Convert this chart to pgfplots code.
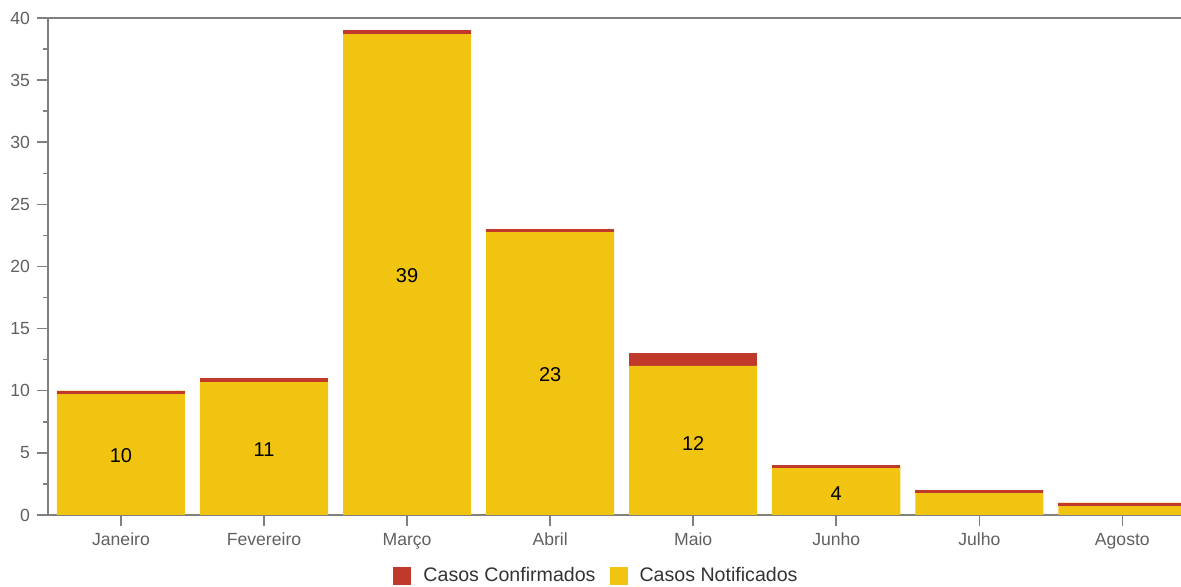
\documentclass[border=0pt]{standalone}
\usepackage{pgfplots}
\pgfplotsset{compat=1.18}
\usepackage{fontspec}
\setmainfont{Liberation Sans}
\definecolor{cyel}{RGB}{240,196,16}
\definecolor{cred}{RGB}{192,57,43}
\definecolor{axgray}{RGB}{128,128,128}
\definecolor{lblgray}{RGB}{96,96,96}
\definecolor{leggray}{RGB}{51,51,51}
\begin{document}
\begin{tikzpicture}
\path[use as bounding box] (0,0) rectangle (590.5pt,293.5pt);
\begin{axis}[
  at={(24pt,36pt)}, anchor=south west,
  scale only axis, width=566.5pt, height=248.5pt,
  ybar stacked, bar width=0.895,
  xmin=-0.51, xmax=7.41, ymin=0, ymax=40,
  axis lines*=left,
  axis line style={axgray, line width=0.75pt},
  tick align=outside,
  xtick={0,...,7},
  xticklabels={Janeiro,Fevereiro,Março,Abril,Maio,Junho,Julho,Agosto},
  ytick={0,5,...,40},
  minor y tick num=1,
  major tick length=5.5pt, minor tick length=2.5pt,
  x tick style={axgray, line width=0.75pt},
  y tick style={axgray, line width=0.75pt},
  tick label style={font=\fontsize{8.8}{10}\selectfont, text=lblgray},
  /pgf/number format/assume math mode=true,
  legend style={at={(0.485,-0.123)}, anchor=center, draw=none, fill=none,
    font=\fontsize{9.8}{11}\selectfont, text=leggray,
    /tikz/every even column/.append style={column sep=5pt}},
  legend columns=2,
]
\addlegendimage{legend image code/.code={\fill[cred, draw=none] (0pt,-4.5pt) rectangle (9pt,4.5pt); \path[draw=none, fill=none] (0pt,0pt) rectangle (13pt,0pt);}}
\addlegendentry{Casos Confirmados}
\addlegendimage{legend image code/.code={\fill[cyel, draw=none] (0pt,-4.5pt) rectangle (9pt,4.5pt); \path[draw=none, fill=none] (0pt,0pt) rectangle (13pt,0pt);}}
\addlegendentry{Casos Notificados}
% Casos Notificados
\addplot[fill=cyel, draw=none, forget plot] coordinates {
  (0,10) (1,11) (2,39) (3,23) (4,12) (5,4) (6,2) (7,1)};
% Casos Confirmados
\addplot[fill=cred, draw=none, forget plot] coordinates {
  (0,0) (1,0) (2,0) (3,0) (4,1) (5,0) (6,0) (7,0)};
\draw[axgray, line width=1.1pt] (rel axis cs:0,1) -- (rel axis cs:1,1);
\end{axis}
\begin{axis}[
  at={(24pt,36pt)}, anchor=south west,
  scale only axis, width=566.5pt, height=248.5pt,
  xmin=-0.51, xmax=7.41, ymin=0, ymax=40,
  hide axis,
]
% top edge of each stacked bar (total = notificados + confirmados)
\addplot[only marks, mark=-, mark size=32pt,
  mark options={cred, line width=1.6pt, yshift=-0.8pt}] coordinates {
  (0,10) (1,11) (2,39) (3,23) (4,13) (5,4) (6,2) (7,1)};
\addplot[only marks, mark size=0pt, mark options={draw=none, fill=none},
  nodes near coords, point meta=explicit symbolic,
  every node near coord/.style={anchor=center, yshift=-1.5pt, text=black,
    font=\fontsize{10}{12}\selectfont}] coordinates {
  (0,5)[10] (1,5.5)[11] (2,19.5)[39] (3,11.5)[23] (4,6)[12] (5,2)[4]};
\end{axis}
\end{tikzpicture}
\end{document}
